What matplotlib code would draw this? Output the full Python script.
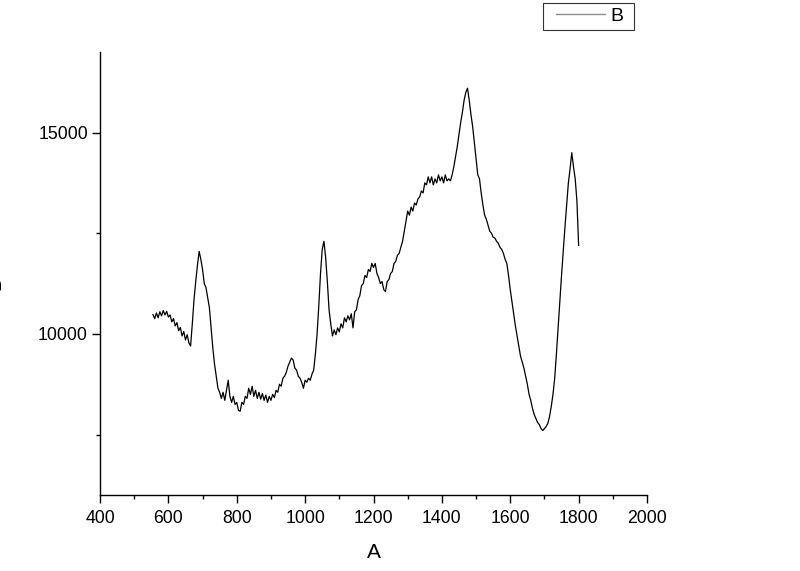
import numpy as np
import matplotlib
matplotlib.use("Agg")
import matplotlib.pyplot as plt
from matplotlib.ticker import MultipleLocator
from matplotlib.legend_handler import HandlerLine2D
from matplotlib.lines import Line2D

plt.rcParams['font.family'] = ['Liberation Sans', 'DejaVu Sans']

# Spectrum sampled every 5 units from 555 to 1800
x_start, x_stop, x_step = 555, 1800, 5
intensity = [
    10480, 10380, 10520, 10400, 10550, 10450, 10580, 10470, 10560, 10420,
    10470, 10300, 10380, 10200, 10280, 10080, 10160, 9950, 10060, 9850,
    9980, 9780, 9700, 10250, 10850, 11300, 11700, 12050, 11850, 11600,
    11250, 11150, 10900, 10650, 10150, 9650, 9250, 8950, 8650, 8550,
    8400, 8550, 8350, 8600, 8850, 8450, 8300, 8450, 8250, 8300,
    8100, 8080, 8300, 8250, 8450, 8400, 8650, 8500, 8700, 8450,
    8600, 8400, 8550, 8380, 8520, 8350, 8480, 8300, 8450, 8350,
    8500, 8420, 8600, 8550, 8750, 8700, 8900, 8950, 9050, 9200,
    9300, 9400, 9350, 9150, 9100, 8950, 8900, 8800, 8650, 8850,
    8800, 8900, 8850, 9000, 9100, 9500, 10000, 10700, 11500, 12100,
    12300, 11900, 11300, 10600, 10250, 9950, 10100, 9980, 10150, 10050,
    10250, 10150, 10400, 10300, 10450, 10350, 10500, 10150, 10550, 10600,
    10850, 10950, 11200, 11250, 11450, 11400, 11600, 11550, 11750, 11650,
    11750, 11500, 11400, 11250, 11300, 11100, 11050, 11300, 11350, 11500,
    11550, 11750, 11800, 11950, 12000, 12150, 12300, 12550, 12800, 13050,
    12950, 13150, 13050, 13250, 13200, 13350, 13400, 13550, 13500, 13750,
    13700, 13900, 13750, 13900, 13700, 13850, 13750, 13950, 13800, 13900,
    13750, 13950, 13800, 13850, 13800, 13950, 14150, 14400, 14650, 14950,
    15250, 15500, 15800, 16000, 16100, 15800, 15450, 15150, 14750, 14350,
    13950, 13850, 13500, 13200, 12950, 12850, 12700, 12550, 12500, 12400,
    12380, 12300, 12250, 12150, 12100, 12000, 11850, 11750, 11450, 11100,
    10800, 10500, 10200, 9950, 9700, 9450, 9300, 9150, 8950, 8750,
    8500, 8350, 8150, 8000, 7900, 7800, 7750, 7650, 7600, 7650,
    7700, 7780, 7950, 8200, 8500, 8900, 9500, 10150, 10800, 11450,
    12050, 12650, 13200, 13750, 14100, 14500, 14150, 13850, 13300, 12200,
]
wavenumber = np.arange(x_start, x_stop + 1, x_step)

series_name = "B"
x_label = "A"
y_label = "B"

W, H = 800, 571
fig = plt.figure(figsize=(W / 100, H / 100), dpi=100)
ax = fig.add_axes([100 / W, 1 - 495 / H, (647 - 100) / W, (495 - 52) / H])

ax.plot(wavenumber, intensity, color='black', lw=0.9, label=series_name)

ax.set_xlim(400, 2000)
ax.set_ylim(6000, 17000)
ax.xaxis.set_major_locator(MultipleLocator(200))
ax.xaxis.set_minor_locator(MultipleLocator(100))
ax.yaxis.set_major_locator(MultipleLocator(5000))
ax.yaxis.set_minor_locator(MultipleLocator(2500))

for s in ['top', 'right']:
    ax.spines[s].set_visible(False)
for s in ['left', 'bottom']:
    ax.spines[s].set_linewidth(1.0)
    ax.spines[s].set_color('black')

ax.tick_params(which='major', direction='out', length=5.5, width=1, labelsize=12.7)
ax.tick_params(which='minor', direction='out', length=3, width=1)
ax.tick_params(axis='x', which='major', pad=5.5)
ax.tick_params(axis='y', which='major', pad=3.2)

ax.set_xlabel(x_label, fontsize=15, labelpad=11)
fig.text(4 / W, 1 - 283 / H, y_label, rotation=90, fontsize=14, ha='right', va='center')

legend_handle = Line2D([], [], color='#8c8c8c', lw=1.0)
leg = ax.legend([legend_handle], [series_name + " "], loc='upper left',
                bbox_to_anchor=(543 / W, 1 - 3 / H),
                bbox_transform=fig.transFigure, borderaxespad=0, fontsize=14,
                handlelength=2.94, handletextpad=0.3, borderpad=0.24,
                fancybox=False, framealpha=1,
                handler_map={Line2D: HandlerLine2D(xpad=0.42)})
leg.get_frame().set_edgecolor('#333333')
leg.get_frame().set_linewidth(0.8)

fig.savefig('out.png', dpi=100)
